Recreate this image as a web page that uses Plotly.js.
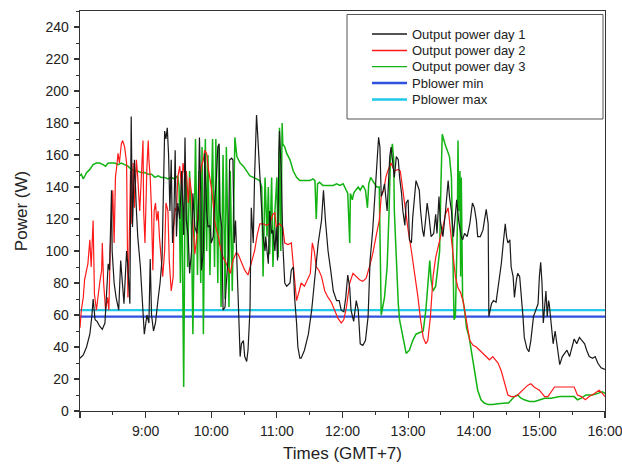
<!DOCTYPE html>
<html>
<head>
<meta charset="utf-8">
<script src="https://cdn.plot.ly/plotly-3.0.1.min.js"></script>
<style>
html,body{margin:0;padding:0;background:#fff;}
#chart{width:622px;height:464px;}
</style>
</head>
<body>
<div id="chart"></div>
<script>
// ---- data (time in decimal hours, GMT+7; power in W) ----
var seriesNames = ["Output power day 1", "Output power day 2", "Output power day 3", "Pblower min", "Pblower max"];

var day1Time = [8.00,8.05,8.10,8.15,8.18,8.20,8.23,8.26,8.30,8.34,8.38,8.40,8.43,8.45,8.48,8.49,8.52,8.55,8.59,8.62,
8.64,8.67,8.71,8.73,8.76,8.78,8.80,8.83,8.86,8.88,8.92,8.95,8.98,9.02,9.05,9.07,9.09,9.12,9.15,9.19,
9.22,9.25,9.27,9.29,9.31,9.33,9.35,9.37,9.39,9.41,9.43,9.45,9.47,9.49,9.52,9.55,9.58,9.60,9.62,9.65,
9.67,9.70,9.72,9.75,9.78,9.80,9.82,9.84,9.85,9.88,9.90,9.93,9.95,9.98,10.00,10.03,10.05,10.08,10.10,10.12,
10.13,10.16,10.18,10.21,10.23,10.26,10.28,10.31,10.33,10.35,10.37,10.40,10.42,10.44,10.46,10.49,10.51,10.54,10.56,10.59,
10.61,10.64,10.66,10.69,10.71,10.74,10.77,10.79,10.82,10.83,10.85,10.87,10.89,10.92,10.94,10.97,10.99,11.01,11.03,11.04,
11.07,11.09,11.12,11.15,11.20,11.22,11.25,11.27,11.30,11.32,11.35,11.37,11.42,11.48,11.53,11.58,11.63,11.68,11.71,11.74,
11.78,11.82,11.86,11.91,11.95,11.98,12.02,12.05,12.08,12.11,12.13,12.17,12.21,12.24,12.27,12.31,12.35,12.39,12.42,12.46,
12.51,12.53,12.55,12.57,12.59,12.62,12.64,12.68,12.72,12.74,12.77,12.79,12.82,12.85,12.87,12.90,12.92,12.95,12.97,13.00,
13.02,13.05,13.07,13.10,13.12,13.17,13.19,13.22,13.24,13.27,13.29,13.32,13.35,13.39,13.42,13.44,13.47,13.49,13.53,13.57,
13.61,13.63,13.66,13.69,13.72,13.74,13.77,13.81,13.83,13.86,13.90,13.94,13.98,14.01,14.04,14.06,14.10,14.14,14.17,14.19,
14.22,14.23,14.27,14.30,14.34,14.38,14.42,14.45,14.48,14.50,14.52,14.55,14.57,14.60,14.62,14.65,14.67,14.70,14.72,14.75,
14.77,14.81,14.84,14.87,14.91,14.94,14.98,15.00,15.02,15.04,15.06,15.08,15.10,15.12,15.14,15.15,15.18,15.21,15.24,15.27,
15.31,15.35,15.39,15.42,15.46,15.50,15.53,15.57,15.61,15.65,15.69,15.72,15.76,15.81,15.85,15.89,15.94,16.00];
var day1Power = [33,35,40,48,59,70,57,56,53,51,55,71,92,88,138,100,80,71,63,94,
84,67,100,90,67,184,115,157,125,109,90,67,48,60,55,95,60,50,55,70,
80,95,130,175,170,177,160,125,157,105,119,163,109,130,120,150,110,171,119,109,
86,100,136,115,111,121,171,136,88,100,161,125,115,116,105,109,130,146,165,167,
125,115,63,65,80,98,157,158,157,105,119,84,63,34,42,44,34,31,38,63,
127,105,146,185,171,146,125,109,100,109,100,92,125,111,113,100,115,94,161,175,
146,105,80,78,80,88,90,71,55,40,33,33,38,48,63,84,105,119,138,119,
100,88,75,69,69,63,62,71,85,77,63,56,69,63,42,41,44,59,94,113,
146,165,171,165,134,138,142,125,159,165,155,146,159,157,146,136,125,116,130,132,
107,105,121,134,144,138,125,113,109,121,130,121,109,111,123,111,134,119,109,125,
144,134,125,109,125,132,119,109,107,111,109,117,130,127,119,109,109,113,121,126,
117,59,67,69,68,80,92,105,117,109,105,107,90,84,71,82,86,84,75,59,
46,39,37,44,59,63,67,84,93,80,55,65,75,59,69,67,52,42,50,42,
29,34,36,38,34,40,45,42,46,44,42,38,34,33,34,30,27,26];

var day2Time = [8.00,8.02,8.05,8.07,8.10,8.12,8.15,8.17,8.20,8.22,8.25,8.27,8.30,8.33,8.34,8.36,8.39,8.42,8.44,8.46,
8.48,8.50,8.52,8.54,8.56,8.58,8.60,8.63,8.65,8.68,8.71,8.72,8.73,8.75,8.77,8.79,8.81,8.83,8.86,8.88,
8.91,8.93,8.96,8.97,8.99,9.02,9.04,9.05,9.07,9.09,9.11,9.13,9.15,9.17,9.19,9.21,9.24,9.26,9.29,9.30,
9.31,9.34,9.36,9.39,9.42,9.43,9.45,9.47,9.49,9.52,9.55,9.57,9.60,9.62,9.65,9.67,9.70,9.72,9.75,9.78,
9.80,9.83,9.85,9.88,9.90,9.93,9.95,9.98,10.00,10.03,10.05,10.08,10.11,10.13,10.16,10.18,10.21,10.23,10.26,10.29,
10.33,10.38,10.41,10.46,10.51,10.56,10.61,10.66,10.70,10.74,10.79,10.84,10.89,10.94,10.97,10.99,11.04,11.09,11.12,11.17,
11.22,11.25,11.27,11.30,11.34,11.37,11.42,11.48,11.51,11.54,11.57,11.60,11.64,11.68,11.73,11.78,11.83,11.88,11.93,11.98,
12.02,12.06,12.11,12.16,12.21,12.26,12.31,12.36,12.41,12.46,12.52,12.56,12.59,12.63,12.66,12.69,12.74,12.79,12.85,12.88,
12.92,12.96,13.00,13.05,13.10,13.15,13.19,13.23,13.27,13.30,13.34,13.38,13.42,13.47,13.50,13.54,13.57,13.61,13.64,13.68,
13.72,13.76,13.80,13.84,13.88,13.91,13.94,13.99,14.04,14.09,14.14,14.19,14.24,14.29,14.33,14.37,14.42,14.46,14.49,14.52,
14.57,14.62,14.67,14.75,14.82,14.87,14.92,15.00,15.08,15.13,15.18,15.23,15.31,15.41,15.53,15.58,15.64,15.70,15.76,15.84,
15.91,15.96,16.00];
var day2Power = [52,63,71,82,88,92,107,90,119,73,63,71,80,88,105,80,63,71,63,100,
115,138,105,146,153,161,155,167,169,165,155,115,71,105,150,117,155,127,157,146,
125,142,169,125,105,153,169,157,146,125,88,125,130,119,125,109,96,84,100,115,
130,125,94,75,84,115,127,125,146,153,138,155,146,150,130,146,136,117,98,109,
125,146,153,157,163,161,153,146,140,130,119,113,109,104,98,96,94,92,88,86,
94,99,98,93,88,85,92,100,110,117,117,116,117,123,124,115,117,115,105,104,
105,90,80,69,75,80,78,84,86,105,100,90,88,84,75,71,68,63,58,55,
57,65,80,86,84,82,81,83,90,98,111,119,134,138,146,150,155,150,151,150,
138,125,113,100,86,71,57,46,42,44,59,84,96,104,109,117,123,127,115,98,
84,77,74,68,59,50,44,41,40,38,36,34,32,34,32,30,25,19,15,10,
9,9,10,13,16,17,15,13,9,9,12,15,15,15,15,10,9,7,9,11,
13,11,9];

var day3Time = [8.00,8.02,8.05,8.10,8.15,8.20,8.25,8.30,8.35,8.39,8.43,8.48,8.53,8.58,8.63,8.68,8.73,8.78,8.83,8.88,
8.93,8.98,9.04,9.09,9.14,9.19,9.24,9.29,9.34,9.39,9.44,9.49,9.51,9.53,9.55,9.58,9.60,9.62,9.64,9.67,
9.70,9.72,9.76,9.79,9.81,9.84,9.86,9.88,9.91,9.93,9.95,9.98,10.02,10.05,10.07,10.10,10.12,10.15,10.18,10.21,
10.23,10.27,10.29,10.32,10.36,10.39,10.44,10.49,10.54,10.59,10.64,10.69,10.74,10.77,10.79,10.82,10.85,10.87,10.89,10.92,
10.94,10.97,11.00,11.02,11.04,11.06,11.08,11.09,11.12,11.15,11.17,11.20,11.25,11.30,11.35,11.40,11.45,11.50,11.55,11.58,
11.60,11.62,11.65,11.70,11.75,11.80,11.86,11.91,11.96,12.01,12.03,12.06,12.08,12.11,12.12,12.15,12.17,12.20,12.24,12.27,
12.31,12.35,12.38,12.40,12.43,12.46,12.52,12.56,12.58,12.59,12.64,12.68,12.71,12.73,12.76,12.78,12.79,12.82,12.85,12.87,
12.92,12.97,13.02,13.07,13.12,13.17,13.23,13.27,13.30,13.33,13.35,13.38,13.42,13.45,13.48,13.50,13.52,13.56,13.58,13.61,
13.63,13.66,13.68,13.70,13.72,13.75,13.76,13.77,13.79,13.80,13.81,13.83,13.86,13.89,13.93,13.96,14.01,14.06,14.11,14.16,
14.22,14.29,14.37,14.44,14.49,14.53,14.57,14.62,14.67,14.72,14.77,14.85,14.93,15.00,15.08,15.18,15.31,15.43,15.53,15.58,
15.64,15.71,15.81,15.89,15.96,16.00];
var day3Power = [147,148,145,149,151,154,155,155,154,153,155,155,155,154,155,154,153,151,150,150,
149,149,148,148,146,147,146,146,145,146,145,147,140,80,150,15,130,150,90,150,
110,48,170,85,150,80,165,48,170,100,160,85,170,90,170,80,165,65,160,70,
165,65,150,75,171,159,155,153,150,147,146,145,144,140,84,146,109,140,98,146,
90,125,146,96,177,100,180,167,165,161,159,157,150,146,144,144,144,144,145,144,
120,142,143,141,141,141,141,142,141,142,140,138,136,105,136,132,136,138,140,138,
141,138,127,142,146,144,140,140,63,60,71,90,125,157,167,157,125,94,67,57,
46,36,38,44,48,49,50,63,80,94,82,75,78,88,100,142,173,167,165,161,
159,146,84,57,59,115,169,125,150,84,146,71,63,52,46,38,25,13,7,5,
4,4,4.5,5,5,5,7,9,10,8,7,6,6,7,8,8,9,9,9,7,
8,10,10,11,12,11];

var blowerTime = [8, 16];
var blowerMin = [59, 59];
var blowerMax = [63, 63];

var xTickVals = [8, 9, 10, 11, 12, 13, 14, 15, 16];
var xTickText = ["", "9:00", "10:00", "11:00", "12:00", "13:00", "14:00", "15:00", "16:00"];
var xMinorVals = [8.5, 9.5, 10.5, 11.5, 12.5, 13.5, 14.5, 15.5];

var colors = ["#1a1a1a", "#ff1a1a", "#12b312", "#3050e0", "#22c8ea"];
var widths = [1.2, 1.2, 1.5, 2.2, 2.2];

var traces = [
  {x: day1Time, y: day1Power},
  {x: day2Time, y: day2Power},
  {x: day3Time, y: day3Power},
  {x: blowerTime, y: blowerMin},
  {x: blowerTime, y: blowerMax}
].map(function (t, i) {
  t.type = "scatter";
  t.mode = "lines";
  t.name = seriesNames[i];
  t.showlegend = false;
  t.line = {color: colors[i], width: widths[i]};
  t.hoverinfo = "skip";
  return t;
});
traces = [traces[3], traces[4], traces[2], traces[1], traces[0]];

// legend built from shapes + annotations (paper coords of plot area)
var L = {x0: 0.5086, x1: 0.9962, y0: 0.73, y1: 0.9913, sx0: 0.5562, sx1: 0.6229, tx: 0.6286,
         rows: [0.9425, 0.90125, 0.8608, 0.82, 0.77875]};
var shapes = [{type: "rect", xref: "paper", yref: "paper", x0: L.x0, x1: L.x1, y0: L.y0, y1: L.y1,
               line: {color: "#555", width: 1}, fillcolor: "rgba(255,255,255,1)", layer: "above"}];
var annotations = [];
seriesNames.forEach(function (n, i) {
  shapes.push({type: "line", xref: "paper", yref: "paper", x0: L.sx0, x1: L.sx1, y0: L.rows[i], y1: L.rows[i],
               line: {color: colors[i], width: i < 3 ? 1.3 : 2.4}, layer: "above"});
  annotations.push({xref: "paper", yref: "paper", x: L.tx, y: L.rows[i], xanchor: "left", yanchor: "middle",
                    text: n, showarrow: false, font: {family: "Liberation Sans, Arial, sans-serif", size: 13, color: "#222"}});
});

var axisFont = {family: "Liberation Sans, Arial, sans-serif", size: 14, color: "#222"};
var titleFont = {family: "Liberation Sans, Arial, sans-serif", size: 17, color: "#222"};

var layout = {
  width: 622, height: 464,
  margin: {l: 80, r: 17, t: 11, b: 53},
  paper_bgcolor: "#fff", plot_bgcolor: "#fff",
  showlegend: false,
  xaxis: {
    range: [8, 16], tickmode: "array", tickvals: xTickVals, ticktext: xTickText,
    ticks: "outside", ticklen: 6, tickwidth: 1.2, tickcolor: "#333",
    minor: {tickmode: "array", tickvals: xMinorVals, ticks: "outside", ticklen: 3, tickwidth: 1, tickcolor: "#333", showgrid: false},
    showgrid: false, zeroline: false, showline: true, linecolor: "#333", linewidth: 1.3, mirror: true,
    tickfont: axisFont, ticklabelstandoff: 1, ticklabeloverflow: "allow",
    title: {text: "Times (GMT+7)", font: titleFont, standoff: 9}
  },
  yaxis: {
    range: [0, 250], tickmode: "linear", tick0: 0, dtick: 20,
    ticks: "outside", ticklen: 5, tickwidth: 1.2, tickcolor: "#333",
    minor: {dtick: 10, ticks: "outside", ticklen: 3, tickwidth: 1, tickcolor: "#333", showgrid: false},
    showgrid: false, zeroline: false, showline: true, linecolor: "#333", linewidth: 1.3, mirror: true,
    tickfont: axisFont, ticklabelstandoff: 2,
    title: {text: "Power (W)", font: titleFont, standoff: 13}
  },
  shapes: shapes,
  annotations: annotations
};

Plotly.newPlot("chart", traces, layout, {staticPlot: true, displayModeBar: false});
</script>
</body>
</html>
